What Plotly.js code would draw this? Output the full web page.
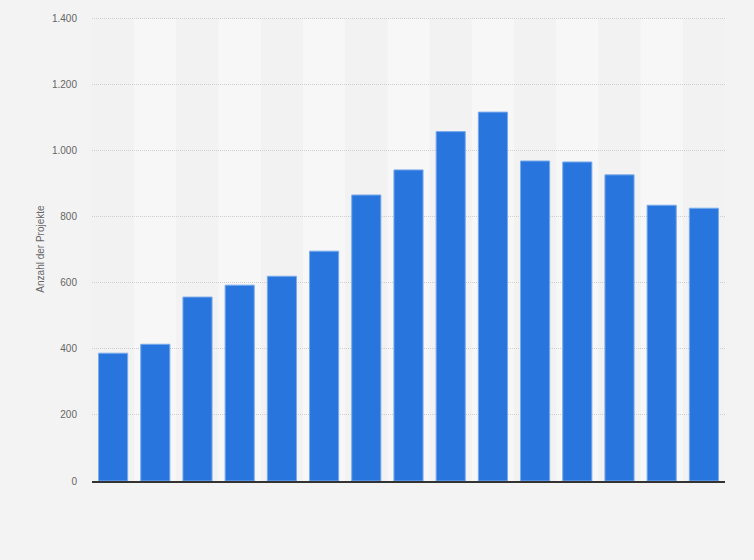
<!DOCTYPE html>
<html>
<head>
<meta charset="utf-8">
<script src="https://cdn.plot.ly/plotly-3.0.1.min.js"></script>
<style>html,body{margin:0;padding:0;background:#f3f3f3;}</style>
</head>
<body>
<div id="chart" style="width:754px;height:560px;"></div>
<script>
var categories = ["1","2","3","4","5","6","7","8","9","10","11","12","13","14","15"];
var projekte = [387, 414, 557, 593, 620, 696, 866, 942, 1058, 1117, 969, 966, 927, 835, 826];
var yTicks = [0, 200, 400, 600, 800, 1000, 1200, 1400];

var shapes = [];
for (var i = 0; i < categories.length; i++) {
  shapes.push({
    type: 'rect', xref: 'x', yref: 'y', layer: 'below',
    x0: i - 0.5, x1: i + 0.5, y0: -95, y1: 1400,
    fillcolor: (i % 2 === 1) ? '#f7f7f7' : '#f2f2f2', line: {width: 0}
  });
}

var trace = {
  type: 'bar',
  x: categories.map(function(c, i){ return i; }),
  y: projekte,
  marker: {color: '#2876dd', line: {color: '#7aaaea', width: 1}},
  width: 0.69,
  hoverinfo: 'y'
};

var layout = {
  width: 754, height: 560,
  margin: {l: 92, r: 29, t: 17, b: 79},
  paper_bgcolor: '#f3f3f3',
  plot_bgcolor: 'rgba(0,0,0,0)',
  separators: ',.',
  showlegend: false,
  font: {family: '"Liberation Sans", Arial, sans-serif', color: '#666666', size: 10},
  xaxis: {
    type: 'linear', range: [-0.5, categories.length - 0.5],
    showticklabels: false, showgrid: false, zeroline: false, ticks: '',
    showline: true, linecolor: '#333333', linewidth: 1.5
  },
  yaxis: {
    range: [0, 1405], tickvals: yTicks, tickformat: ',d',
    showgrid: true, gridcolor: '#cfcfcf', griddash: '1px,1px', gridwidth: 1,
    zeroline: false, showline: false, ticks: '',
    ticklabelstandoff: 14,
    tickfont: {size: 10, color: '#666666'},
    title: {text: 'Anzahl der Projekte', font: {size: 10, color: '#666666'}, standoff: 5}
  },
  shapes: shapes
};

Plotly.newPlot('chart', [trace], layout, {displayModeBar: false, staticPlot: true});
</script>
</body>
</html>
